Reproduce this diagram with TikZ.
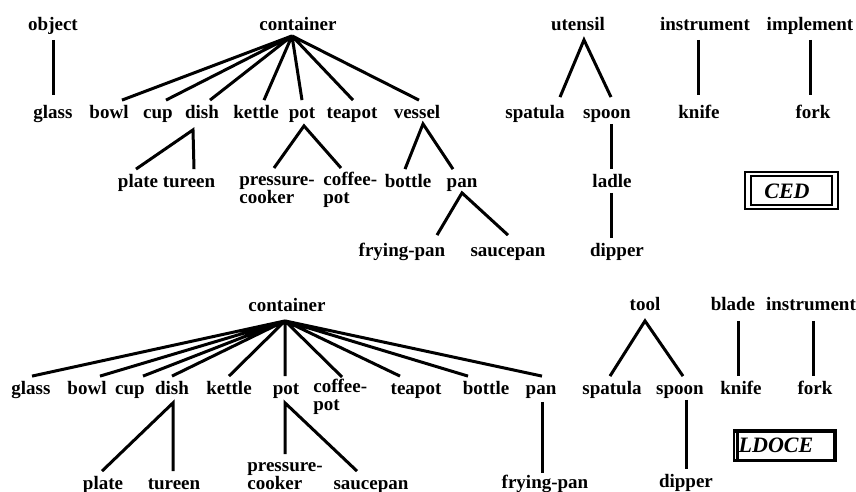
\documentclass[tikz,border=0pt]{standalone}
\usepackage{fontspec}
\setmainfont{Liberation Serif}
\usetikzlibrary{positioning}

\begin{document}
\begin{tikzpicture}[x=0.5pt, y=-0.5pt,
    word/.style={font=\fontsize{9.5}{9}\selectfont\bfseries, inner xsep=0pt, inner ysep=1.5pt, text height=7.5pt, text depth=1pt},
    split/.style={font=\fontsize{9.5}{9}\selectfont\bfseries, inner sep=0pt, align=left, anchor=base west},
    link/.style={line width=1.5pt},
    tag/.style={font=\fontsize{11}{12}\selectfont\bfseries\itshape, inner sep=0pt}]
    \useasboundingbox (0,0) rectangle (856,492);

    % CED hierarchy (upper half)
    \node[word] (c-object) at (53,24) {object};
    \node[word] (c-container) at (298,24) {container};
    \node[word] (c-utensil) at (578,24) {utensil};
    \node[word] (c-instrument) at (705,24) {instrument};
    \node[word] (c-implement) at (810,24) {implement};

    \node[word] (c-glass) at (53,112) {glass};
    \node[word] (c-bowl) at (109,112) {bowl};
    \node[word] (c-cup) at (158,112) {cup};
    \node[word] (c-dish) at (202,112) {dish};
    \node[word] (c-kettle) at (256,112) {kettle};
    \node[word] (c-pot) at (302,112) {pot};
    \node[word] (c-teapot) at (352,112) {teapot};
    \node[word] (c-vessel) at (417,112) {vessel};
    \node[word] (c-spatula) at (535,112) {spatula};
    \node[word] (c-spoon) at (607,112) {spoon};
    \node[word] (c-knife) at (699,112) {knife};
    \node[word] (c-fork) at (813,112) {fork};

    \node[word] (c-plate) at (138,181) {plate};
    \node[word] (c-tureen) at (189,181) {tureen};
    \node[split] (c-pressure) at (239,203.5) {pressure-\\cooker};
    \node[split] (c-coffee) at (323,203.5) {coffee-\\pot};
    \node[word] (c-bottle) at (408,181) {bottle};
    \node[word] (c-pan) at (462,181) {pan};
    \node[word] (c-ladle) at (612,181) {ladle};

    \node[word] (c-frying) at (402,250) {frying-pan};
    \node[word] (c-saucepan) at (508,250) {saucepan};
    \node[word] (c-dipper) at (617,250) {dipper};

    \draw[link] ([yshift=-2pt]c-object.south) -- ([yshift=2.5pt]c-glass.north);
    \draw[link] ([xshift=-3pt]c-container.south) -- ([xshift=6.5pt]c-bowl.north)
                ([xshift=-3pt]c-container.south) -- ([xshift=4pt]c-cup.north)
                ([xshift=-3pt]c-container.south) -- ([xshift=4pt]c-dish.north)
                ([xshift=-3pt]c-container.south) -- ([xshift=4pt]c-kettle.north)
                ([xshift=-3pt]c-container.south) -- (c-pot.north)
                ([xshift=-3pt]c-container.south) -- ([xshift=0.5pt]c-teapot.north)
                ([xshift=-3pt]c-container.south) -- ([xshift=1pt]c-vessel.north);
    \draw[link] ([xshift=-1pt]c-plate.north) -- ([xshift=-4.5pt,yshift=-3pt]c-dish.south) -- ([xshift=2.5pt]c-tureen.north);
    \draw[link] ([xshift=17.5pt,yshift=17.75pt]c-pressure.base west) -- ([xshift=1pt,yshift=-1pt]c-pot.south) -- ([xshift=9pt,yshift=17.75pt]c-coffee.base west);
    \draw[link] ([xshift=-1.5pt]c-bottle.north) -- ([xshift=3pt]c-vessel.south) -- ([xshift=-4.5pt]c-pan.north);
    \draw[link] ([xshift=17.5pt,yshift=1.5pt]c-frying.north) -- (c-pan.south) -- ([yshift=1.5pt]c-saucepan.north);
    \draw[link] ([xshift=12.5pt,yshift=1.5pt]c-spatula.north) -- ([xshift=3pt,yshift=-2pt]c-utensil.south) -- ([xshift=2pt,yshift=1.5pt]c-spoon.north);
    \draw[link] ([xshift=2pt]c-spoon.south) -- ([xshift=-0.5pt]c-ladle.north);
    \draw[link] ([xshift=-0.5pt]c-ladle.south) -- ([xshift=-3pt]c-dipper.north);
    \draw[link] ([xshift=-3.5pt,yshift=-2pt]c-instrument.south) -- ([xshift=-0.5pt,yshift=2.5pt]c-knife.north);
    \draw[link] ([yshift=-2pt]c-implement.south) -- ([xshift=-1.5pt,yshift=2.5pt]c-fork.north);

    % CED frame
    \node[tag] (ced) at (787,191) {CED};
    \draw[line width=1.2pt] (745,172) rectangle (838,209);
    \draw[line width=0.7pt] (751,176) rectangle (832,205);

    % LDOCE hierarchy (lower half)
    \node[word] (l-container) at (287,305) {container};
    \node[word] (l-tool) at (645,304) {tool};
    \node[word] (l-blade) at (733,304) {blade};
    \node[word] (l-instrument) at (811,304) {instrument};

    \node[word] (l-glass) at (31,388) {glass};
    \node[word] (l-bowl) at (87,388) {bowl};
    \node[word] (l-cup) at (130,388) {cup};
    \node[word] (l-dish) at (172,388) {dish};
    \node[word] (l-kettle) at (229,388) {kettle};
    \node[word] (l-pot) at (286,388) {pot};
    \node[split] (l-coffee) at (313,410) {coffee-\\pot};
    \node[word] (l-teapot) at (416,388) {teapot};
    \node[word] (l-bottle) at (486,388) {bottle};
    \node[word] (l-pan) at (541,388) {pan};
    \node[word] (l-spatula) at (612,388) {spatula};
    \node[word] (l-spoon) at (680,388) {spoon};
    \node[word] (l-knife) at (741,388) {knife};
    \node[word] (l-fork) at (815,388) {fork};

    \node[word] (l-plate) at (103,483) {plate};
    \node[word] (l-tureen) at (174,483) {tureen};
    \node[split] (l-pressure) at (247,489) {pressure-\\cooker};
    \node[word] (l-saucepan) at (371,483) {saucepan};
    \node[word] (l-frying) at (545,482) {frying-pan};
    \node[word] (l-dipper) at (686,481) {dipper};

    \draw[link] ([xshift=-1pt,yshift=-2pt]l-container.south) -- ([xshift=0.5pt]l-glass.north)
                ([xshift=-1pt,yshift=-2pt]l-container.south) -- ([xshift=6.5pt]l-bowl.north)
                ([xshift=-1pt,yshift=-2pt]l-container.south) -- ([xshift=6.5pt]l-cup.north)
                ([xshift=-1pt,yshift=-2pt]l-container.south) -- (l-dish.north)
                ([xshift=-1pt,yshift=-2pt]l-container.south) -- (l-kettle.north)
                ([xshift=-1pt,yshift=-2pt]l-container.south) -- ([xshift=-0.5pt]l-pot.north)
                ([xshift=-1pt,yshift=-2pt]l-container.south) -- ([xshift=14.5pt,yshift=16.5pt]l-coffee.base west)
                ([xshift=-1pt,yshift=-2pt]l-container.south) -- ([xshift=-8pt]l-teapot.north)
                ([xshift=-1pt,yshift=-2pt]l-container.south) -- ([xshift=-9pt]l-bottle.north)
                ([xshift=-1pt,yshift=-2pt]l-container.south) -- ([xshift=0.5pt]l-pan.north);
    \draw[link] ([xshift=-0.5pt]l-plate.north) -- ([xshift=0.5pt,yshift=-1.5pt]l-dish.south) -- ([xshift=-0.5pt]l-tureen.north);
    \draw[link] ([xshift=19pt,yshift=17.5pt]l-pressure.base west) -- ([xshift=-0.5pt,yshift=-1.5pt]l-pot.south) -- ([xshift=-7pt]l-saucepan.north);
    \draw[link] ([xshift=0.5pt,yshift=-1pt]l-pan.south) -- ([xshift=-1.5pt,yshift=-1.2pt]l-frying.north);
    \draw[link] ([xshift=-1pt]l-spatula.north) -- ([yshift=-2.5pt]l-tool.south) -- ([xshift=1.5pt]l-spoon.north);
    \draw[link] ([xshift=3pt]l-spoon.south) -- (l-dipper.north);
    \draw[link] ([xshift=2.5pt,yshift=-2.5pt]l-blade.south) -- ([xshift=-1.5pt]l-knife.north);
    \draw[link] ([xshift=1pt,yshift=-2.5pt]l-instrument.south) -- ([xshift=-1pt]l-fork.north);

    % LDOCE frame
    \fill (733,429) rectangle (837,462);
    \fill[white] (739,433) rectangle (833,459);
    \draw[white, line width=0.6pt] (735.5,433) -- (735.5,459);
    \node[tag] (ldoce) at (776,445) {LDOCE};
\end{tikzpicture}
\end{document}
